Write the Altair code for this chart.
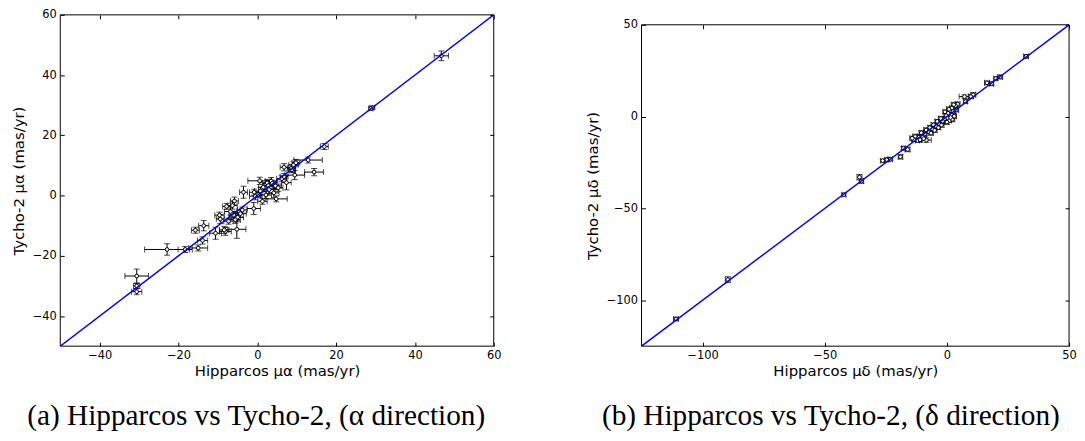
import altair as alt
import pandas as pd

# ---------------- panel (a): alpha direction ----------------
hip_ra = [46.7, 29.2, 28.8, 17.0, 12.9, 14.4, 6.8, 8.6, 9.2, 9.8, 8.8, 9.5, 7.4, 6.2, 6.8,
          4.8, 0.6, 4.6, 3.5, 2.5, 3.0, 4.2, 2.2, 1.5, 0.8, 1.3, -0.8, -0.5, 0.2, 2.8,
          3.8, 5.3, -0.9, -3.5, -3.8, -4.3, -5.8, -6.3, -5.2, -5.0, -5.6, -6.0, -6.8, -7.3,
          -7.8, -9.6, -9.4, -8.1, -10.6, -8.4, -13.6, -15.7, -13.9, -15.0, -18.3, -22.9,
          -30.6, -30.6, -30.6]
tyc_ra = [46.4, 29.2, 28.9, 16.3, 11.8, 7.8, 9.4, 9.0, 10.2, 10.9, 8.5, 6.8, 4.3, 5.6, 6.3,
          -1.1, 4.9, 3.2, 4.8, 4.2, 2.0, 0.9, 0.2, 2.8, 1.5, -1.9, 1.1, -0.2, 0.3, 3.3,
          4.1, 2.6, -4.3, 1.1, -4.8, -6.0, -1.8, -3.3, -11.2, -7.2, -8.0, -6.5, -5.3, -8.5,
          -3.6, -6.5, -7.8, -11.9, -12.5, -11.4, -10.0, -11.5, -14.9, -17.4, -17.9, -17.9,
          -26.7, -30.0, -31.9]
hip_ra_err = [1.8, 0.6, 0.5, 1.0, 3.6, 2.4, 1.0, 1.0, 1.2, 1.0, 0.9, 2.5, 1.2, 1.3, 1.0,
              2.8, 3.0, 1.5, 1.5, 1.2, 1.5, 1.3, 1.4, 1.2, 1.5, 1.2, 1.2, 1.5, 1.0, 1.0,
              1.0, 1.2, 1.7, 1.0, 1.2, 1.5, 1.0, 1.2, 2.3, 1.5, 1.3, 1.2, 1.5, 1.2,
              1.0, 1.2, 1.0, 1.5, 1.5, 1.2, 1.3, 1.0, 1.3, 2.4, 1.8, 5.7,
              3.0, 0.8, 1.3]
tyc_ra_err = [1.6, 0.5, 0.5, 1.0, 1.0, 1.2, 1.2, 1.2, 1.0, 1.1, 0.9, 1.5, 2.4, 1.0, 1.0,
              1.0, 1.2, 1.2, 1.2, 1.2, 1.3, 1.5, 1.2, 1.5, 1.2, 1.0, 1.0, 1.2, 1.0, 1.0,
              1.0, 1.2, 2.0, 2.0, 1.0, 1.2, 1.3, 1.2, 3.0, 1.5, 1.2, 1.0, 1.2, 1.0,
              1.0, 1.0, 1.5, 1.3, 2.0, 1.2, 1.7, 1.0, 1.2, 1.0, 1.0, 1.9,
              2.3, 0.8, 1.0]

# ---------------- panel (b): delta direction ----------------
hip_de = [32.4, 21.8, 20.0, 16.4, 18.3, 10.8, 9.8, 7.2, 7.6,
          4.4, 3.5, 2.8, 2.0, 3.8, 1.2, 0.5, 1.8, 2.5, -0.3, 0.2, 1.0, 2.2, 0.0, -1.0,
          -1.8, -2.5, -3.2, -2.2, -4.0, -4.5, -3.5, -5.5, -6.0, -5.0, -7.0, -7.5, -6.5,
          -8.5, -9.0, -8.4, -10.0, -10.5, -11.5, -12.0, -13.0, -13.5, -14.2, -11.0, -9.5,
          3.0, 1.5, -0.8, 0.8,
          -16.1, -17.8, -19.0, -23.2, -24.6, -26.3, -35.8, -35.0, -42.2, -89.7, -110.9]
tyc_de = [32.8, 21.6, 20.7, 18.4, 17.9, 11.9, 10.9, 10.9, 8.2,
          6.8, 5.9, 6.5, 4.6, 3.6, 3.3, 1.8, 1.0, 2.8, 0.5, -0.8, -2.2, -1.5, -3.0, -1.3,
          -2.5, -1.0, -3.8, -4.6, -2.6, -5.2, -6.0, -4.5, -6.8, -7.5, -6.0, -8.2, -9.0,
          -7.3, -9.5, -12.8, -11.0, -8.8, -11.2, -13.0, -10.8, -12.5, -11.8, -12.6, -12.0,
          0.2, -0.5, 2.6, 4.0,
          -17.9, -17.2, -21.9, -23.2, -23.5, -24.0, -33.0, -35.1, -42.5, -88.8, -110.2]
hip_de_err = [1.0, 1.0, 0.8, 1.0, 0.8, 1.0, 1.0, 2.2, 0.8,
              1.0, 0.9, 1.0, 0.9, 1.0, 0.8, 1.0, 0.9, 1.0, 0.8, 1.0, 0.9, 1.0, 0.8, 1.0,
              0.9, 1.0, 0.8, 1.0, 0.9, 1.0, 0.8, 1.0, 0.9, 1.0, 0.8, 1.0, 0.9,
              1.0, 0.8, 2.0, 1.0, 0.9, 1.0, 0.8, 1.0, 0.9, 1.0, 0.8, 1.0,
              0.9, 1.0, 0.8, 1.0,
              1.0, 0.8, 0.9, 1.0, 0.8, 0.8, 1.0, 0.9, 0.8, 1.0, 1.0]
tyc_de_err = [1.0, 1.1, 0.9, 1.0, 1.0, 1.2, 1.0, 0.9, 1.0,
              1.2, 1.0, 1.1, 1.2, 1.0, 1.2, 1.0, 1.1, 1.2, 1.0, 1.2, 1.0, 1.1, 1.2, 1.0,
              1.2, 1.0, 1.1, 1.2, 1.0, 1.2, 1.0, 1.1, 1.2, 1.0, 1.2, 1.0, 1.1,
              1.2, 1.0, 1.2, 1.0, 1.1, 1.2, 1.0, 1.2, 1.0, 1.1, 1.2, 1.0,
              1.1, 1.2, 1.0, 1.2,
              1.2, 1.0, 1.2, 1.0, 1.0, 0.8, 1.5, 1.2, 0.8, 1.6, 1.0]

ra_domain = [-50, 60]
de_domain = [-125, 50]
ra_ticks = [-40, -20, 0, 20, 40, 60]
de_ticks = [-100, -50, 0, 50]

SANS = "DejaVu Sans"
SERIF = "Liberation Serif"


def panel(hx, ty, hxe, tye, domain, ticks, w, h, top, xtitle, ytitle, caption):
    df = pd.DataFrame({"x": hx, "y": ty, "xe": hxe, "ye": tye})
    df["xlo"] = df["x"] - df["xe"]
    df["xhi"] = df["x"] + df["xe"]
    df["ylo"] = df["y"] - df["ye"]
    df["yhi"] = df["y"] + df["ye"]

    xs = alt.Scale(domain=domain, nice=False, zero=False)
    ys = alt.Scale(domain=domain, nice=False, zero=False, range=[h, top])

    xaxis = alt.Axis(orient="bottom", values=ticks, offset=-4, tickSize=4, domain=False,
                     grid=False, labelPadding=3, labelFlush=False, labelFont=SANS,
                     labelFontSize=11.5, labelColor="black", tickColor="black",
                     title=xtitle, titleFont=SANS, titleFontSize=15, titleFontWeight="normal",
                     titleColor="black", titlePadding=3, format="~d", minExtent=0)
    yaxis = alt.Axis(orient="left", values=ticks, offset=-4, tickSize=4, domain=False,
                     grid=False, labelPadding=4, labelFlush=False, labelFont=SANS,
                     labelFontSize=11.5, labelColor="black", tickColor="black",
                     title=ytitle, titleFont=SANS, titleFontSize=15, titleFontWeight="normal",
                     titleColor="black", titlePadding=6, format="~d", minExtent=0)

    def X(f):
        return alt.X(f, type="quantitative", scale=xs, axis=xaxis)

    def Y(f):
        return alt.Y(f, type="quantitative", scale=ys, axis=yaxis)

    base = alt.Chart(df)
    hbar = base.mark_rule(color="black", strokeWidth=1).encode(x=X("xlo"), x2="xhi", y=Y("y"))
    vbar = base.mark_rule(color="black", strokeWidth=1).encode(x=X("x"), y=Y("ylo"), y2="yhi")
    cap_l = base.mark_tick(orient="vertical", size=6, thickness=1, color="black").encode(x=X("xlo"), y=Y("y"))
    cap_r = base.mark_tick(orient="vertical", size=6, thickness=1, color="black").encode(x=X("xhi"), y=Y("y"))
    cap_b = base.mark_tick(orient="horizontal", size=6, thickness=1, color="black").encode(x=X("x"), y=Y("ylo"))
    cap_t = base.mark_tick(orient="horizontal", size=6, thickness=1, color="black").encode(x=X("x"), y=Y("yhi"))
    pts = base.mark_point(shape="circle", filled=True, fill="white", stroke="black",
                          strokeWidth=1, size=14, opacity=1).encode(x=X("x"), y=Y("y"))

    line_df = pd.DataFrame({"lx": domain, "ly": domain})
    line = alt.Chart(line_df).mark_line(color="#0000ff", strokeWidth=1.5, clip=True).encode(
        x=X("lx"), y=Y("ly"))

    inner = alt.layer(hbar, vbar, cap_l, cap_r, cap_b, cap_t, pts, line)

    frame_df = pd.DataFrame({"a": [domain[0]], "b": [domain[1]]})
    top_axis = alt.Axis(orient="top", values=ticks, labels=False, domain=False, grid=False,
                        tickSize=4, offset=-(4 + top), tickColor="black", title=None,
                        minExtent=0, maxExtent=0)
    right_axis = alt.Axis(orient="right", values=ticks, labels=False, domain=False, grid=False,
                          tickSize=4, offset=-4, tickColor="black", title=None,
                          minExtent=0, maxExtent=0)
    frame = alt.Chart(frame_df).mark_rect(fillOpacity=0, stroke="black", strokeWidth=1).encode(
        x=alt.X("a:Q", scale=xs, axis=top_axis), x2="b",
        y=alt.Y("a:Q", scale=ys, axis=right_axis), y2="b")

    return alt.layer(inner, frame).resolve_scale(x="shared", y="shared").resolve_axis(
        x="independent", y="independent").properties(
        width=w, height=h,
        title=alt.Title(caption, orient="bottom", font=SERIF, fontSize=29.5, fontWeight="normal",
                        color="black", offset=24, anchor="middle", frame="bounds"))


left = panel(hip_ra, tyc_ra, hip_ra_err, tyc_ra_err, ra_domain, ra_ticks, 437, 334, 0,
             "Hipparcos μα (mas/yr)", "Tycho-2 μα (mas/yr)",
             "(a) Hipparcos vs Tycho-2, (α direction)")
right = panel(hip_de, tyc_de, hip_de_err, tyc_de_err, de_domain, de_ticks, 431, 334, 10,
              "Hipparcos μδ (mas/yr)", "Tycho-2 μδ (mas/yr)",
              "(b) Hipparcos vs Tycho-2, (δ direction)")

chart = alt.hconcat(left, right, spacing=84).properties(
    padding={"left": 2.7, "top": -0.8, "right": 0, "bottom": 0},
    background="white",
).configure_view(stroke=None)

chart.save("out.html", embed_options={"renderer": "svg", "actions": False})
